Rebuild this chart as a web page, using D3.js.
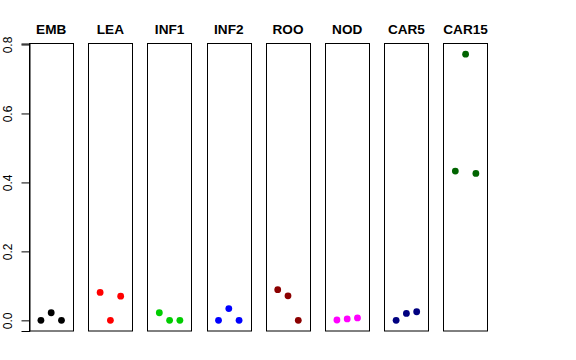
<!DOCTYPE html>
<html><head><meta charset="utf-8">
<script src="https://cdn.jsdelivr.net/npm/d3@7"></script>
<style>body{margin:0;background:#fff}</style>
</head><body>
<svg id="c" width="576" height="360"></svg>
<script>
const categories = ["EMB","LEA","INF1","INF2","ROO","NOD","CAR5","CAR15"];
const colors = ["#000000","#FF0000","#00CD00","#0000FF","#8B0000","#FF00FF","#000080","#006400"];
const rep1 = [0, 0.081, 0.022, 0, 0.089, 0.001, 0, 0.433];
const rep2 = [0.022, 0, 0, 0.034, 0.071, 0.004, 0.020, 0.772];
const rep3 = [0, 0.070, 0, 0, 0, 0.007, 0.025, 0.426];
const yTicks = [0, 0.2, 0.4, 0.6, 0.8];

const svg = d3.select("#c");
const font = "Liberation Sans, Arial, Helvetica, sans-serif";
const y = d3.scaleLinear().domain([-0.0309, 0.8029]).range([331, 43.5]);
const panelLeft = d3.scaleLinear().domain([0, 7]).range([29, 443.4]);
const pw = 44.4;

categories.forEach((cat, i) => {
  const x0 = panelLeft(i);
  const g = svg.append("g");
  const x = d3.scaleLinear().domain([-0.16, 4.16]).range([x0, x0 + pw]);
  g.append("rect").attr("x", Math.round(x0)+0.5).attr("y", 43.5)
    .attr("width", Math.round(pw)).attr("height", 331-43.5)
    .attr("fill","none").attr("stroke","#000").attr("stroke-width",1);
  g.append("text").attr("x", x0 + pw/2).attr("y", 33.5).attr("text-anchor","middle")
    .attr("font-family", font).attr("font-weight","bold").attr("font-size", 13.6).text(cat);
  const vals = [rep1[i], rep2[i], rep3[i]];
  g.selectAll("circle").data(vals).enter().append("circle")
    .attr("cx", (d,j) => x(j+1)).attr("cy", d => y(d)).attr("r", 3.4)
    .attr("fill", colors[i]);
});

const axis = d3.axisLeft(y).tickValues(yTicks).tickFormat(d3.format(".1f")).tickSize(8);
const ag = svg.append("g").attr("transform","translate(29.5,0)").call(axis);
ag.select(".domain").attr("stroke","#000");
ag.selectAll(".tick line").attr("stroke","#000");
ag.selectAll(".tick text")
  .attr("font-family", font).attr("font-size", 12).attr("fill","#000")
  .attr("x", 0).attr("y", 0).attr("dy", null)
  .attr("text-anchor","middle")
  .attr("transform", "translate(-18,0) rotate(-90)");
</script>
</body></html>
